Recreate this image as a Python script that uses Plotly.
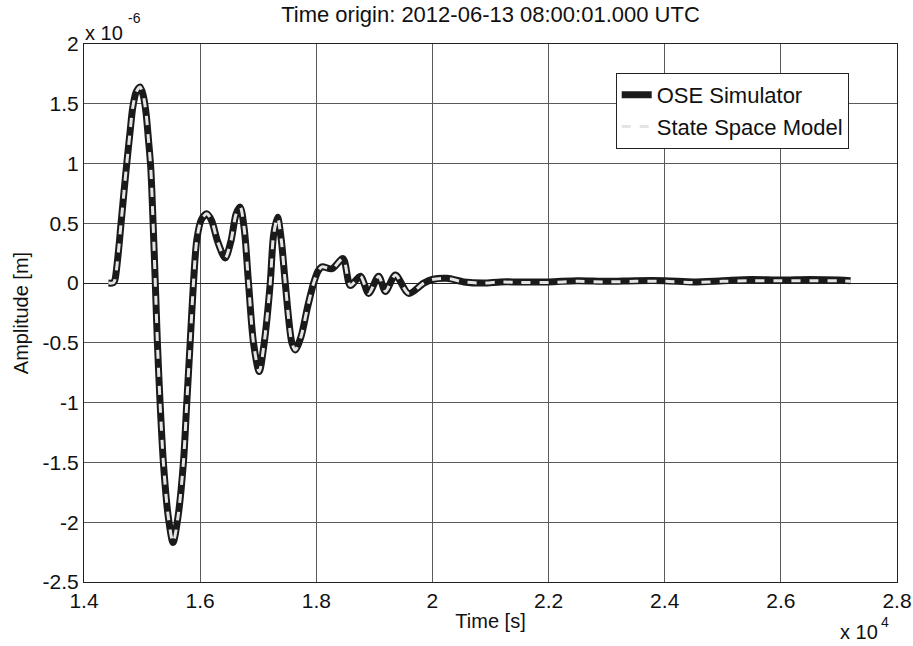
import plotly.graph_objects as go

# Time [s] and amplitude in units of 1e-6 m
time_s = [14420, 14480, 14510, 14534, 14590, 14638, 14690, 14736, 14790, 14840,
          14900, 14966, 15020, 15069, 15110, 15149, 15190, 15228, 15264, 15310,
          15367, 15450, 15534, 15620, 15712, 15770, 15828, 15885, 15942, 16020,
          16115, 16200, 16300, 16431, 16530, 16620, 16690, 16760, 16833, 16919,
          17017, 17103, 17207, 17264, 17333, 17400, 17466, 17580, 17638, 17736,
          17850, 17954, 18030, 18098, 18270, 18460, 18586, 18759, 18902, 19074,
          19190, 19362, 19592, 19850, 19994, 20253, 20540, 20884, 21172, 21500,
          22000, 22500, 23000, 23500, 24000, 24500, 25000, 25500, 26000, 26500,
          27000, 27200]
ose_amp = [0.0, 0.0, 0.005, 0.03, 0.25, 0.5, 0.77, 1.0, 1.25, 1.47,
           1.6, 1.64, 1.57, 1.42, 1.2, 0.97, 0.5, 0.0, -0.5, -1.0,
           -1.5, -1.95, -2.17, -1.95, -1.5, -1.0, -0.5, 0.0, 0.36, 0.53,
           0.58, 0.52, 0.35, 0.21, 0.35, 0.58, 0.636, 0.45, 0.0, -0.5,
           -0.74, -0.5, 0.0, 0.4, 0.55, 0.35, 0.0, -0.5, -0.56, -0.45,
           -0.2, 0.0, 0.1, 0.136, 0.12, 0.205, -0.02, 0.058, -0.086, 0.058,
           -0.07, 0.067, -0.086, 0.0, 0.03, 0.04, 0.01, 0.0, 0.01, 0.01,
           0.01, 0.02, 0.015, 0.02, 0.02, 0.01, 0.02, 0.03, 0.025, 0.03,
           0.025, 0.02]
ssm_amp = [0.0, 0.0, 0.005, 0.03, 0.25, 0.5, 0.77, 1.0, 1.25, 1.47,
           1.6, 1.64, 1.57, 1.42, 1.2, 0.97, 0.5, 0.0, -0.5, -1.0,
           -1.5, -1.95, -2.17, -1.95, -1.5, -1.0, -0.5, 0.0, 0.36, 0.53,
           0.58, 0.52, 0.35, 0.21, 0.35, 0.58, 0.636, 0.45, 0.0, -0.5,
           -0.74, -0.5, 0.0, 0.4, 0.55, 0.35, 0.0, -0.5, -0.56, -0.45,
           -0.2, 0.0, 0.1, 0.136, 0.12, 0.205, -0.02, 0.058, -0.086, 0.058,
           -0.07, 0.067, -0.086, 0.0, 0.03, 0.04, 0.01, 0.0, 0.01, 0.005,
           0.005, 0.015, 0.01, 0.015, 0.015, 0.005, 0.015, 0.02, 0.02, 0.02,
           0.02, 0.015]

x_ticks = [14000, 16000, 18000, 20000, 22000, 24000, 26000, 28000]
x_tick_text = ['1.4', '1.6', '1.8', '2', '2.2', '2.4', '2.6', '2.8']
y_ticks = [-2.5, -2, -1.5, -1, -0.5, 0, 0.5, 1, 1.5, 2]
y_tick_text = ['-2.5', '-2', '-1.5', '-1', '-0.5', '0', '0.5', '1', '1.5', '2']

FONT = 'Liberation Sans, Arial, sans-serif'
GRID = '#5a5a5a'

fig = go.Figure()
fig.add_trace(go.Scatter(x=time_s, y=ose_amp, name='OSE Simulator', mode='lines',
                         line=dict(color='#1a1a1a', width=7, shape='spline', smoothing=0.8)))
fig.add_trace(go.Scatter(x=time_s, y=ssm_amp, name='State Space Model', mode='lines',
                         line=dict(color='#e4e4e4', width=3, dash='dash',
                                   shape='spline', smoothing=0.8)))

fig.update_layout(
    width=913, height=646,
    margin=dict(l=84, r=16, t=44, b=64, autoexpand=False),
    paper_bgcolor='white', plot_bgcolor='white',
    font=dict(family=FONT, size=20, color='#111111'),
    title=dict(text='Time origin: 2012-06-13 08:00:01.000 UTC', x=0.5, xref='paper',
               y=1 - 14 / 646, yanchor='middle', font=dict(size=22)),
    legend=dict(x=0.654, y=0.946, xanchor='left', yanchor='top',
                bgcolor='white', bordercolor='#222222', borderwidth=1,
                font=dict(size=22), tracegroupgap=0, itemwidth=30),
    showlegend=True,
)
fig.update_xaxes(range=[14000, 28000], tickvals=x_ticks, ticktext=x_tick_text,
                 showgrid=True, gridcolor=GRID, gridwidth=1, zeroline=False,
                 showline=True, linecolor='#222222', linewidth=1, mirror=True,
                 ticks='', tickfont=dict(size=21), automargin=False,
                 title=dict(text='Time [s]', font=dict(size=20), standoff=2))
fig.update_yaxes(range=[-2.5, 2], tickvals=y_ticks, ticktext=y_tick_text,
                 showgrid=True, gridcolor=GRID, gridwidth=1,
                 zeroline=True, zerolinecolor='#222222', zerolinewidth=1,
                 showline=True, linecolor='#222222', linewidth=1, mirror=True,
                 ticks='', tickfont=dict(size=21), automargin=False,
                 title=dict(text='Amplitude [m]', font=dict(size=20), standoff=8))

# MATLAB-style exponent labels
fig.add_annotation(text='x 10', xref='paper', yref='paper', x=0, y=1,
                   xanchor='left', yanchor='middle', showarrow=False,
                   font=dict(size=20), yshift=11, xshift=-1)
fig.add_annotation(text='-6', xref='paper', yref='paper', x=0, y=1,
                   xanchor='left', yanchor='middle', showarrow=False,
                   font=dict(size=14), yshift=26, xshift=42)
fig.add_annotation(text='x 10', xref='paper', yref='paper', x=1, y=0,
                   xanchor='right', yanchor='middle', showarrow=False,
                   font=dict(size=20), yshift=-50, xshift=-17)
fig.add_annotation(text='4', xref='paper', yref='paper', x=1, y=0,
                   xanchor='right', yanchor='middle', showarrow=False,
                   font=dict(size=14), yshift=-40, xshift=-6)

fig.write_html('out.html', config={'displayModeBar': False},
               post_script="document.body.style.margin = '0';")
